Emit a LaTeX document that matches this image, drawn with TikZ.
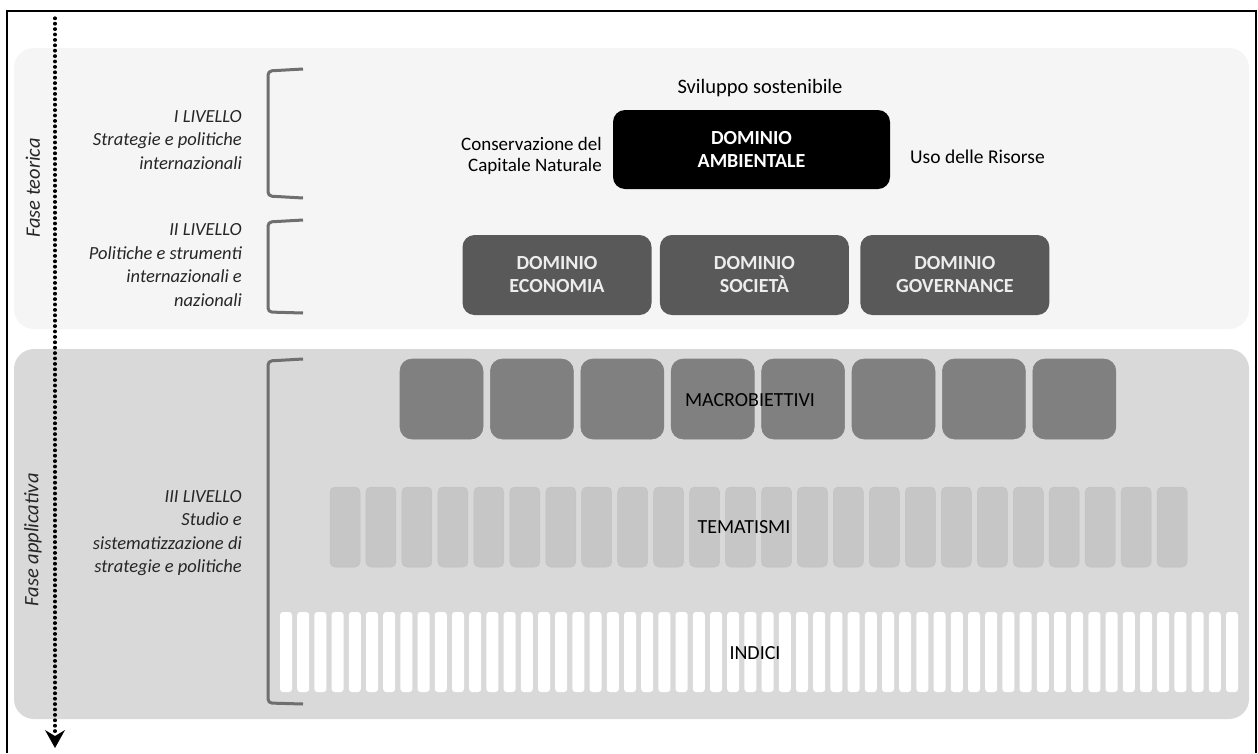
\documentclass[tikz,border=0pt]{standalone}
\usepackage{fontspec}
\setmainfont{Carlito}
\usetikzlibrary{arrows.meta,positioning}

\definecolor{paneltop}{HTML}{F5F5F5}
\definecolor{panelbot}{HTML}{D9D9D9}
\definecolor{domgray}{HTML}{595959}
\definecolor{macrogray}{HTML}{808080}
\definecolor{themegray}{HTML}{C6C6C6}
\definecolor{bracketgray}{HTML}{6F6F6F}
\definecolor{levtext}{HTML}{262626}

\begin{document}
\begin{tikzpicture}[
    x=1pt, y=-1pt,
    font=\fontsize{19}{23}\selectfont,
    envbox/.style={fill=black, text=white, rounded corners=12pt, align=center, inner sep=0pt,
      minimum width=277pt, minimum height=79pt, font=\fontsize{20}{23}\selectfont\bfseries},
    dombox/.style={fill=domgray, text=white!93!black, rounded corners=12pt, align=center, inner sep=0pt,
      minimum width=189pt, minimum height=80pt, font=\fontsize{20}{23}\selectfont\bfseries},
    macrobox/.style={fill=macrogray, draw=black!50, line width=0.6pt, rounded corners=12pt,
      minimum width=83pt, minimum height=80pt, inner sep=0pt},
    themebar/.style={fill=themegray, draw=black!24, line width=0.5pt, rounded corners=5pt,
      minimum width=30pt, minimum height=80pt, inner sep=0pt},
    indexbar/.style={fill=white, rounded corners=3pt, minimum width=12pt, minimum height=80pt, inner sep=0pt},
    midlabel/.style={inner sep=0pt, text=black, font=\fontsize{20}{23}\selectfont},
    toplabel/.style={inner sep=0pt, align=center, text=black},
    livello/.style={inner sep=0pt, anchor=east, align=right, text=levtext, font=\fontsize{18.5}{23.5}\selectfont\itshape},
    fase/.style={inner sep=0pt, rotate=90, text=levtext, font=\fontsize{20.5}{24}\selectfont\itshape},
    bracket/.style={draw=bracketgray, line width=3pt, rounded corners=4pt},
    timeline/.style={line width=3.2pt, dash pattern=on 0.6pt off 4.8pt, line cap=round,
      -{Stealth[length=18pt, width=20pt, inset=6pt, line width=0pt]}}
  ]
    \useasboundingbox (0,0) rectangle (1258,753);
    \fill[white] (0,0) rectangle (1258,753);
    \draw[line width=1.5pt] (7,753) -- (7,11) -- (1256,11) -- (1256,753);

    % phases
    \fill[paneltop, rounded corners=20pt] (14,48) rectangle (1249,329);
    \fill[panelbot, rounded corners=20pt] (14,349) rectangle (1249,719);

    \node[fase] (teorica) at (33,188) {Fase teorica};
    \node[fase] (applicativa) at (33,540) {Fase applicativa};

    \coordinate (start) at (55,18);
    \coordinate (end) at (55,748);
    \draw[timeline] (start) -- (end);

    % levels
    \node[livello] (liv1) at (242,140) {I LIVELLO\\Strategie e politiche\\internazionali};
    \node[livello] (liv2) at (242,265) {II LIVELLO\\Politiche e strumenti\\internazionali e\\nazionali};
    \node[livello] (liv3) at (242,533) {III LIVELLO\\Studio e\\sistematizzazione di\\strategie e politiche};

    \draw[bracket] (303,69) -- (268,71) -- (268,196) -- (303,198);
    \draw[bracket] (303,220) -- (268,222) -- (268,312) -- (303,313);
    \draw[bracket] (303,359) -- (268,361) -- (268,703) -- (303,704);

    % I and II level
    \node[envbox] (ambiente) at (751.5,149.5) {DOMINIO\\AMBIENTALE};
    \node[toplabel, font=\fontsize{20.5}{23}\selectfont] (sviluppo) at (760,88) {Sviluppo sostenibile};
    \node[toplabel, align=right, anchor=east, font=\fontsize{19}{21}\selectfont] (capitale) at (602,156) {Conservazione del\\Capitale Naturale};
    \node[toplabel, anchor=west, font=\fontsize{19.5}{21}\selectfont] (risorse) at (910,157) {Uso delle Risorse};

    \node[dombox] (economia) at (557,275) {DOMINIO\\ECONOMIA};
    \node[dombox, right=8pt of economia] (societa) {DOMINIO\\SOCIETÀ};
    \node[dombox, right=11pt of societa] (governance) {DOMINIO\\GOVERNANCE};

    % III level
    \foreach \i in {0,...,7}
      \node[macrobox] (macro\i) at (441.5+90.4*\i,399) {};
    \foreach \i in {0,...,23}
      \node[themebar] (theme\i) at (345+35.96*\i,527) {};
    \foreach \i in {0,...,55}
      \node[indexbar] (index\i) at (286+17.2*\i,652) {};

    \node[midlabel] (macrolabel) at (750,400) {MACROBIETTIVI};
    \node[midlabel] (themelabel) at (744,527) {TEMATISMI};
    \node[midlabel] (indexlabel) at (755,653) {INDICI};
  \end{tikzpicture}
\end{document}
